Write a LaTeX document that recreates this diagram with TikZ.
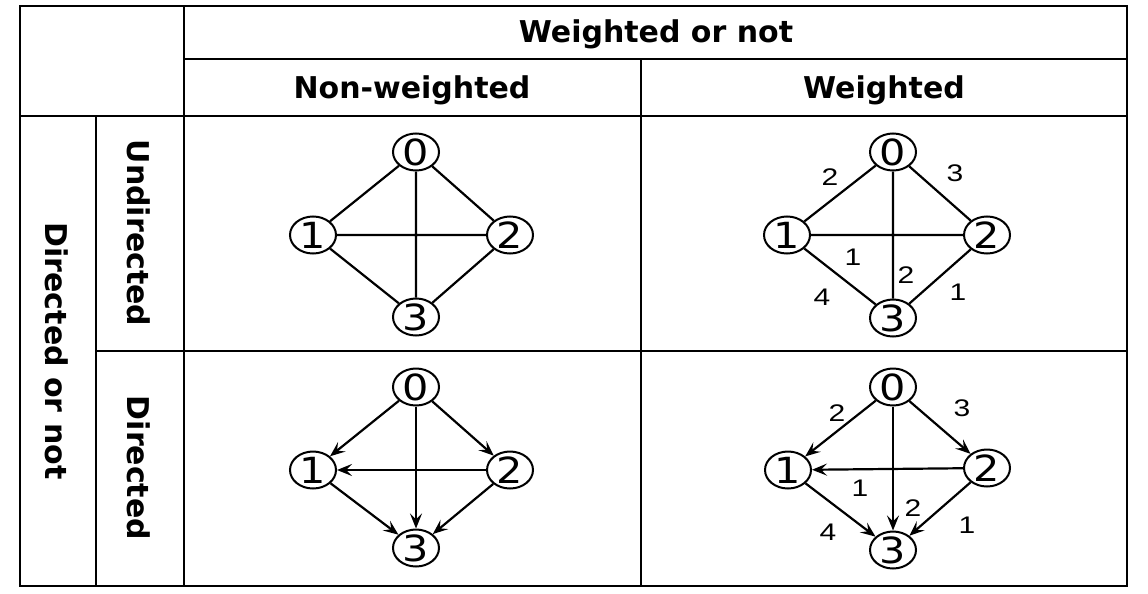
\documentclass[tikz,border=0pt]{standalone}
\usepackage{fontspec}
\setmainfont{DejaVu Sans}
\newfontfamily\numfont[FakeStretch=1.25]{Liberation Sans}
\newfontfamily\vtxfont[FakeStretch=1.15]{DejaVu Sans}
\usetikzlibrary{shapes.geometric,arrows.meta}
\tikzset{
  >={Stealth[length=15pt,width=12pt,inset=6pt]},
  grid/.style={line width=2pt},
  hdr/.style={font=\bfseries\fontsize{30}{30}\selectfont},
  vtx/.style={ellipse,draw,line width=2pt,minimum width=46pt,minimum height=37pt,
    inner sep=-3pt,font=\vtxfont\fontsize{36}{36}\selectfont},
  wt/.style={font=\numfont\fontsize{24}{24}\selectfont},
  edge/.style={line width=2.2pt}
}

\begin{document}
\begin{tikzpicture}[x=1pt,y=-1pt]
  \useasboundingbox (0,0) rectangle (1148,594);
  \draw[grid] (20,6) rectangle (1127,586);
  \draw[grid] (184,6) -- (184,586);
  \draw[grid] (96,116) -- (96,586);
  \draw[grid] (641,59) -- (641,586);
  \draw[grid] (184,59) -- (1127,59);
  \draw[grid] (20,116) -- (1127,116);
  \draw[grid] (96,351) -- (1127,351);
  \node[hdr,anchor=base] (wgtornot) at (656,43) {Weighted or not};
  \node[hdr,anchor=base] (nonwgt) at (412,98) {Non-weighted};
  \node[hdr,anchor=base] (wgt) at (884,98) {Weighted};
  \node[hdr,rotate=-90] (dirornot) at (57,351) {Directed or not};
  \node[hdr,rotate=-90] (undir) at (139,233) {Undirected};
  \node[hdr,rotate=-90] (dir) at (139,468) {Directed};
  % undirected, non-weighted
  \node[vtx] (a0) at (416,152) {0};
  \node[vtx] (a1) at (313,235) {1};
  \node[vtx] (a2) at (510,235) {2};
  \node[vtx] (a3) at (416,317) {3};
  \draw[edge] (a0)--(a1) (a0)--(a2) (a0)--(a3) (a1)--(a2) (a1)--(a3) (a2)--(a3);
  % undirected, weighted
  \node[vtx] (b0) at (893,152) {0};
  \node[vtx] (b1) at (787,235) {1};
  \node[vtx] (b2) at (987,235) {2};
  \node[vtx] (b3) at (893,318) {3};
  \draw[edge] (b0)--(b1) (b0)--(b2) (b0)--(b3) (b1)--(b2) (b1)--(b3) (b2)--(b3);
  \node[wt] (b01) at (830,177) {2};
  \node[wt] (b02) at (955,173) {3};
  \node[wt] (b12) at (853,257) {1};
  \node[wt] (b03) at (906,275) {2};
  \node[wt] (b13) at (822,297) {4};
  \node[wt] (b23) at (958,292) {1};
  % directed, non-weighted
  \node[vtx] (c0) at (416,387) {0};
  \node[vtx] (c1) at (313,470) {1};
  \node[vtx] (c2) at (510,470) {2};
  \node[vtx] (c3) at (416,548) {3};
  \draw[edge,->] (c0)--(c1);
  \draw[edge,->] (c0)--(c2);
  \draw[edge,->] (c0)--(c3);
  \draw[edge,->] (c2)--(c1);
  \draw[edge,->] (c1)--(c3);
  \draw[edge,->] (c2)--(c3);
  % directed, weighted
  \node[vtx] (d0) at (893,387) {0};
  \node[vtx] (d1) at (788,470) {1};
  \node[vtx] (d2) at (987,468) {2};
  \node[vtx] (d3) at (893,550) {3};
  \draw[edge,->] (d0)--(d1);
  \draw[edge,->] (d0)--(d2);
  \draw[edge,->] (d0)--(d3);
  \draw[edge,->] (d2)--(d1);
  \draw[edge,->] (d1)--(d3);
  \draw[edge,->] (d2)--(d3);
  \node[wt] (d01) at (837,413) {2};
  \node[wt] (d02) at (962,408) {3};
  \node[wt] (d21) at (860,488) {1};
  \node[wt] (d03) at (913,508) {2};
  \node[wt] (d13) at (828,532) {4};
  \node[wt] (d23) at (967,525) {1};
\end{tikzpicture}
\end{document}
